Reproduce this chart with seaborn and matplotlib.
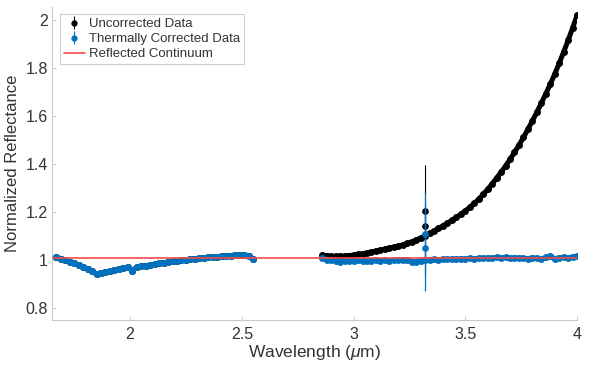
import matplotlib
matplotlib.use("Agg")
import matplotlib.pyplot as plt
from matplotlib.lines import Line2D
import seaborn as sns
import pandas as pd

# ---- data ----
wl_short = [1.67, 1.69, 1.71, 1.73, 1.75, 1.77, 1.79, 1.81, 1.83, 1.85, 1.87, 1.89,
            1.91, 1.93, 1.95, 1.97, 1.99, 2.01, 2.03, 2.05, 2.07, 2.09, 2.11, 2.13,
            2.15, 2.17, 2.19, 2.21, 2.23, 2.25, 2.27, 2.29, 2.31, 2.33, 2.35, 2.37,
            2.39, 2.41, 2.43, 2.45, 2.47, 2.49, 2.51, 2.53, 2.55]
refl_short = [1.012, 1.006, 1.000, 0.993, 0.986, 0.980, 0.972, 0.963, 0.953, 0.942, 0.947, 0.950,
              0.954, 0.957, 0.962, 0.968, 0.970, 0.956, 0.970, 0.974, 0.976, 0.979, 0.982, 0.986,
              0.989, 0.992, 0.995, 0.998, 1.000, 1.002, 1.004, 1.006, 1.007, 1.009, 1.011, 1.013,
              1.015, 1.016, 1.018, 1.019, 1.021, 1.021, 1.020, 1.018, 1.003]

wl_long = [2.86, 2.88, 2.90, 2.92, 2.94, 2.96, 2.98, 3.00, 3.02, 3.04, 3.06, 3.08,
           3.10, 3.12, 3.14, 3.16, 3.18, 3.20, 3.22, 3.24, 3.26, 3.28, 3.30, 3.32,
           3.34, 3.36, 3.38, 3.40, 3.42, 3.44, 3.46, 3.48, 3.50, 3.52, 3.54, 3.56,
           3.58, 3.60, 3.62, 3.64, 3.66, 3.68, 3.70, 3.72, 3.74, 3.76, 3.78, 3.80,
           3.82, 3.84, 3.86, 3.88, 3.90, 3.92, 3.94, 3.96, 3.98, 4.00]
uncorrected_long = [1.021, 1.018, 1.016, 1.016, 1.016, 1.017, 1.019, 1.021, 1.024, 1.027, 1.030, 1.034,
                    1.038, 1.042, 1.046, 1.050, 1.054, 1.058, 1.063, 1.070, 1.076, 1.084, 1.092, 1.102,
                    1.112, 1.122, 1.132, 1.143, 1.154, 1.166, 1.178, 1.191, 1.205, 1.220, 1.236, 1.254,
                    1.274, 1.295, 1.318, 1.342, 1.366, 1.392, 1.420, 1.449, 1.479, 1.511, 1.545, 1.580,
                    1.616, 1.654, 1.693, 1.733, 1.775, 1.820, 1.867, 1.916, 1.967, 2.020]
corrected_long = [1.008, 1.000, 0.999, 0.996, 0.992, 0.998, 0.997, 0.996, 0.999, 0.995, 0.998, 0.997,
                  0.999, 0.996, 1.000, 0.998, 0.999, 1.001, 0.999, 1.001, 0.994, 0.992, 0.997, 1.000,
                  1.001, 1.003, 1.002, 1.004, 1.003, 1.005, 1.004, 1.006, 1.005, 1.007, 1.006, 1.008,
                  1.007, 1.010, 1.008, 1.012, 1.009, 1.011, 1.007, 1.010, 1.009, 1.008, 1.006, 1.010,
                  1.008, 1.004, 1.012, 1.018, 1.006, 1.010, 1.012, 1.008, 1.014, 1.016]

spike_wl = [3.32, 3.32]
spike_uncorrected = [1.205, 1.143]
spike_uncorrected_err = [0.19, 0.05]
spike_corrected = [1.110, 1.050]
spike_corrected_err = [0.17, 0.18]

continuum_wl = [1.65, 4.00]
continuum_val = [1.007, 1.007]

xticks = [2, 2.5, 3, 3.5, 4]
xtick_labels = ["2", "2.5", "3", "3.5", "4"]
yticks = [0.8, 1.0, 1.2, 1.4, 1.6, 1.8, 2.0]
ytick_labels = ["0.8", "1", "1.2", "1.4", "1.6", "1.8", "2"]

# ---- style ----
sns.set_style("white")
plt.rcParams["font.family"] = ["Liberation Sans", "DejaVu Sans"]
plt.rcParams["mathtext.fontset"] = "custom"
plt.rcParams["mathtext.it"] = "Liberation Sans:italic"
plt.rcParams["mathtext.rm"] = "Liberation Sans"

BLACK = "#000000"
BLUE = "#0072BD"
RED = "#F24A4A"
GREY_TXT = "#333333"
SPINE = "#c8c8c8"

fig = plt.figure(figsize=(6.10, 3.65), dpi=100)
ax = fig.add_axes([0.085, 0.123, 0.861, 0.858])

LW = 3.6
MS = 5.0

# uncorrected (black)
ax.errorbar(spike_wl, spike_uncorrected, yerr=spike_uncorrected_err, fmt="o",
            color=BLACK, ms=3.8, elinewidth=0.8, capsize=0, zorder=2)
for xs, ys in [(wl_short, refl_short), (wl_long, uncorrected_long)]:
    df = pd.DataFrame({"x": xs, "y": ys})
    sns.lineplot(data=df, x="x", y="y", ax=ax, color=BLACK, linewidth=LW,
                 marker="o", markersize=MS, markeredgewidth=0, sort=False,
                 estimator=None, zorder=2)

# corrected (blue)
ax.errorbar(spike_wl, spike_corrected, yerr=spike_corrected_err, fmt="o",
            color=BLUE, ms=3.8, elinewidth=0.9, capsize=0, zorder=3)
for xs, ys in [(wl_short, refl_short), (wl_long, corrected_long)]:
    df = pd.DataFrame({"x": xs, "y": ys})
    sns.lineplot(data=df, x="x", y="y", ax=ax, color=BLUE, linewidth=LW,
                 marker="o", markersize=MS, markeredgewidth=0, sort=False,
                 estimator=None, zorder=3)

# reflected continuum
dfc = pd.DataFrame({"x": continuum_wl, "y": continuum_val})
sns.lineplot(data=dfc, x="x", y="y", ax=ax, color=RED, linewidth=1.2, zorder=4)

ax.set_xlim(1.65, 4.0)
ax.set_ylim(0.75, 2.055)
ax.set_xticks(xticks)
ax.set_xticklabels(xtick_labels)
ax.set_yticks(yticks)
ax.set_yticklabels(ytick_labels)
ax.tick_params(direction="in", length=3, width=0.6, color=SPINE,
               labelsize=11.5, labelcolor=GREY_TXT, pad=3)
ax.tick_params(axis="x", pad=5)
ax.tick_params(axis="both", which="both", left=True, bottom=True)
for s in ["top", "right"]:
    ax.spines[s].set_visible(False)
for s in ["left", "bottom"]:
    ax.spines[s].set_color(SPINE)
    ax.spines[s].set_linewidth(0.8)

ax.set_xlabel(r"Wavelength ($\mu$m)", fontsize=12.5, color=GREY_TXT, labelpad=1)
ax.set_ylabel("Normalized Reflectance", fontsize=12, color=GREY_TXT, labelpad=4)

# legend
h1 = ax.errorbar([], [], yerr=[], fmt="o", color=BLACK, ms=3.5, elinewidth=0.8)
h2 = ax.errorbar([], [], yerr=[], fmt="o", color=BLUE, ms=3.5, elinewidth=0.8)
h3 = Line2D([], [], color=RED, linewidth=1.2)
leg = ax.legend([h1, h2, h3], ["Uncorrected Data", "Thermally Corrected Data", "Reflected Continuum"],
                loc="upper left", bbox_to_anchor=(0.01, 0.985), fontsize=9.5,
                frameon=True, fancybox=False, edgecolor="#d0d0d0", framealpha=1,
                borderpad=0.3, labelspacing=0.2, handlelength=1.6, handletextpad=0.3,
                borderaxespad=0.2)
leg.get_frame().set_linewidth(0.8)
for t in leg.get_texts():
    t.set_color(GREY_TXT)

fig.savefig("out.png", dpi=100)
